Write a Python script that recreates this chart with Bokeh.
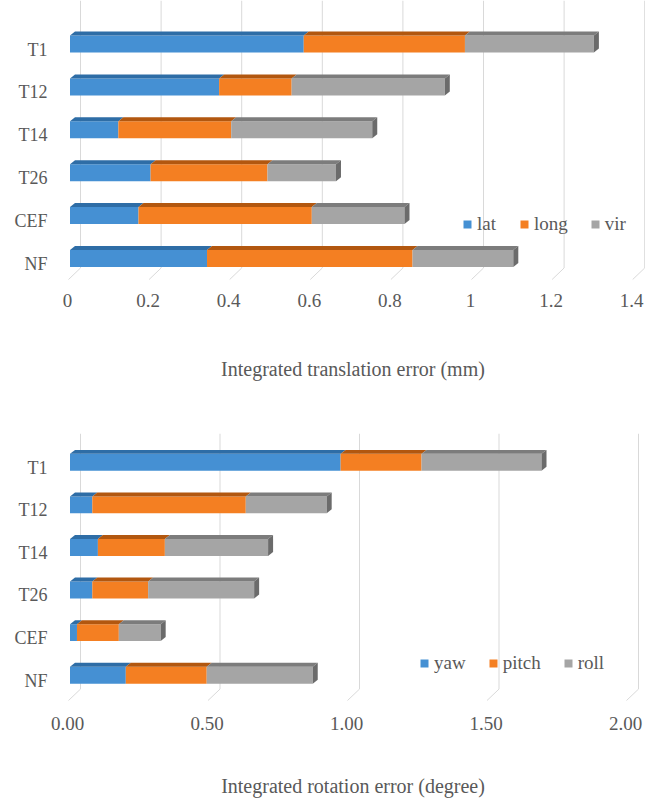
from bokeh.plotting import figure
from bokeh.models import FixedTicker, Legend, LegendItem, Range1d
from bokeh.layouts import column
from bokeh.embed import file_html
from bokeh.resources import INLINE

# ---- data -------------------------------------------------------------
categories = ["T1", "T12", "T14", "T26", "CEF", "NF"]

trans_names = ["lat", "long", "vir"]
lat = [0.58, 0.37, 0.12, 0.20, 0.17, 0.34]
long_ = [0.40, 0.18, 0.28, 0.29, 0.43, 0.51]
vir = [0.32, 0.38, 0.35, 0.17, 0.23, 0.25]

rot_names = ["yaw", "pitch", "roll"]
yaw = [0.97, 0.08, 0.10, 0.08, 0.025, 0.20]
pitch = [0.29, 0.55, 0.24, 0.20, 0.15, 0.29]
roll = [0.43, 0.29, 0.37, 0.38, 0.15, 0.38]

trans_ticks = [0, 0.2, 0.4, 0.6, 0.8, 1.0, 1.2, 1.4]
trans_tick_labels = ["0", "0.2", "0.4", "0.6", "0.8", "1", "1.2", "1.4"]
rot_ticks = [0, 0.5, 1.0, 1.5, 2.0]
rot_tick_labels = ["0.00", "0.50", "1.00", "1.50", "2.00"]

# ---- style ------------------------------------------------------------
FRONT = ["#4590D3", "#F47F22", "#A5A5A5"]
TOP = ["#2E6DA6", "#B2570F", "#7C7C7C"]
SIDE = "#6B6B6B"
GRID = "#D9D9D9"
TEXT = "#595959"
FONT = "Liberation Serif"

W = 645
LEFT = 60
PX_Y = 42.9           # pixels per category step
BAR_PX = 17           # front face height
DEPTH_X, DEPTH_Y = 5, 4
WALL_X = 10.5         # back wall shift of the grid lines
FLOOR_BACK, FLOOR_FRONT, FLOOR_DX = 12.5, 1.0, -12


def build_chart(series, names, ticks, tick_labels, axis_title, ppu,
                fig_h, border_top, border_bottom, low_px, legend_loc,
                tick_standoff, title_standoff):
    frame_w = W - LEFT
    frame_h = fig_h - border_top - border_bottom
    x0 = -9.5 / ppu
    x1 = x0 + frame_w / ppu
    y0 = -low_px / PX_Y
    y1 = y0 + frame_h / PX_Y

    p = figure(width=W, height=fig_h, x_range=Range1d(x0, x1),
               y_range=Range1d(y0, y1), output_backend="svg",
               toolbar_location=None, min_border_left=LEFT,
               min_border_right=0, min_border_top=border_top,
               min_border_bottom=border_bottom, outline_line_color=None)
    p.grid.visible = False

    # back-wall grid lines with their slanted floor ends
    dxw = WALL_X / ppu
    yb = y0 + FLOOR_BACK / PX_Y
    yf = y0 + FLOOR_FRONT / PX_Y
    xs, ys = [], []
    for t in ticks:
        bx = t + dxw
        xs.append([bx + FLOOR_DX / ppu, bx, bx])
        ys.append([yf, yb, y1])
    p.multi_line(xs, ys, line_color=GRID, line_width=1)

    ypos = list(range(len(categories) - 1, -1, -1))
    h = BAR_PX / PX_Y
    dx = DEPTH_X / ppu
    dy = DEPTH_Y / PX_Y

    left = [0.0] * len(categories)
    items = []
    for k, vals in enumerate(series):
        right = [l + v for l, v in zip(left, vals)]
        r = p.hbar(y=ypos, left=left, right=right, height=h,
                   fill_color=FRONT[k], line_color=None)
        items.append(LegendItem(label=names[k], renderers=[r]))
        txs = [[l, rr, rr + dx, l + dx] for l, rr in zip(left, right)]
        tys = [[y + h / 2, y + h / 2, y + h / 2 + dy, y + h / 2 + dy] for y in ypos]
        p.patches(txs, tys, fill_color=TOP[k], line_color=None)
        left = right

    sxs = [[rr, rr + dx, rr + dx, rr] for rr in left]
    sys_ = [[y - h / 2, y - h / 2 + dy, y + h / 2 + dy, y + h / 2] for y in ypos]
    p.patches(sxs, sys_, fill_color=SIDE, line_color=None)

    # category axis (labels sit on the floor front)
    ytick = [y - 5.5 / PX_Y for y in ypos]
    p.yaxis.ticker = FixedTicker(ticks=ytick)
    p.yaxis.major_label_overrides = {t: c for t, c in zip(ytick, categories)}
    p.yaxis.axis_line_color = None
    p.yaxis.major_tick_line_color = None
    p.yaxis.minor_tick_line_color = None
    p.yaxis.major_label_standoff = 7
    p.yaxis.major_label_text_font = FONT
    p.yaxis.major_label_text_font_size = "18px"
    p.yaxis.major_label_text_color = TEXT

    xtick = [t - 2.5 / ppu for t in ticks]
    p.xaxis.ticker = FixedTicker(ticks=xtick)
    p.xaxis.major_label_overrides = {t: s for t, s in zip(xtick, tick_labels)}
    p.xaxis.axis_line_color = None
    p.xaxis.major_tick_line_color = None
    p.xaxis.minor_tick_line_color = None
    p.xaxis.major_label_standoff = tick_standoff
    p.xaxis.major_label_text_font = FONT
    p.xaxis.major_label_text_font_size = "19px"
    p.xaxis.major_label_text_color = TEXT
    p.xaxis.axis_label = axis_title
    p.xaxis.axis_label_standoff = title_standoff
    p.xaxis.axis_label_text_font = FONT
    p.xaxis.axis_label_text_font_size = "20px"
    p.xaxis.axis_label_text_font_style = "normal"
    p.xaxis.axis_label_text_color = TEXT

    legend = Legend(items=items, orientation="horizontal", location=legend_loc,
                    glyph_width=10, glyph_height=10, label_standoff=5,
                    spacing=22, padding=0, margin=0, border_line_color=None,
                    background_fill_alpha=0, label_text_font=FONT,
                    label_text_font_size="19px", label_text_color=TEXT)
    p.add_layout(legend)
    return p


top = build_chart([lat, long_, vir], trans_names, trans_ticks, trans_tick_labels,
                  "Integrated translation error (mm)", 403,
                  398, 0, 118, 22, (402, 45), 7, 48)
bottom = build_chart([yaw, pitch, roll], rot_names, rot_ticks, rot_tick_labels,
                     "Integrated rotation error (degree)", 279,
                     401, 35, 96, 26.5, (359, 27), 9, 42)

layout = column(top, bottom)
open("out.html", "w").write(file_html(layout, INLINE))
